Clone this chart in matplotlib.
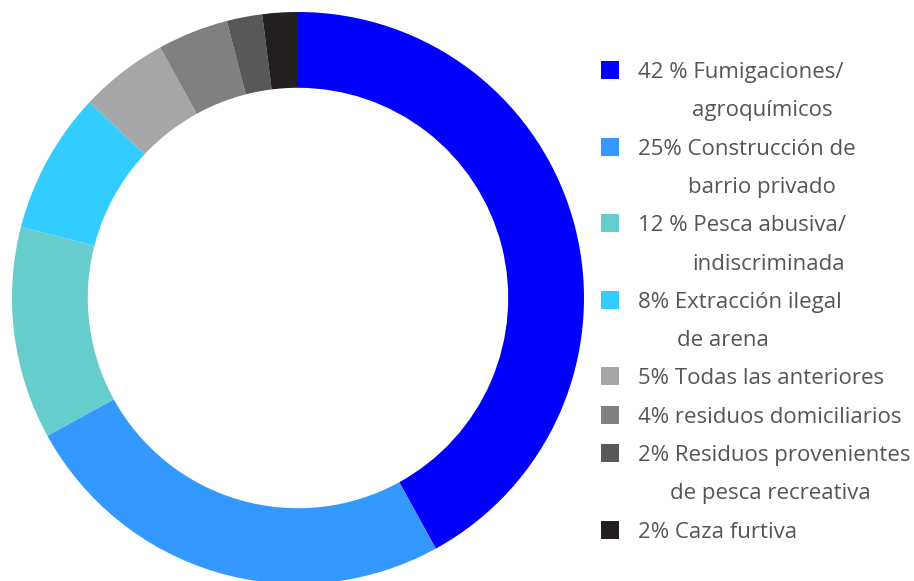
import matplotlib
matplotlib.use("Agg")
import matplotlib.pyplot as plt

values = [42, 25, 12, 8, 5, 4, 2, 2]
colors = ["#0000FF", "#3399FF", "#66CCCC", "#33CCFF", "#A6A6A8", "#808083", "#58585A", "#231F20"]
label_lines = [
    ["42 % Fumigaciones/", "agroquímicos"],
    ["25% Construcción de", "barrio privado"],
    ["12 % Pesca abusiva/", "indiscriminada"],
    ["8% Extracción ilegal", "de arena"],
    ["5% Todas las anteriores"],
    ["4% residuos domiciliarios"],
    ["2% Residuos provenientes", "de pesca recreativa"],
    ["2% Caza furtiva"],
]
# x offsets (px) of continuation lines
cont_x = [692, 688, 692, 677, None, None, 670, None]

W, H = 914, 581
fig = plt.figure(figsize=(W / 100, H / 100), dpi=100)
fig.patch.set_facecolor("white")

cx, cy, r = 298, 298, 286
ax = fig.add_axes([(cx - r) / W, (H - cy - r) / H, 2 * r / W, 2 * r / H])
ax.pie(values, colors=colors, startangle=90, counterclock=False, radius=1,
       wedgeprops=dict(width=0.265, edgecolor="none"))
ax.set_xlim(-1, 1)
ax.set_ylim(-1, 1)
ax.set_aspect("equal")
ax.axis("off")

font = "Open Sans"
fs = 14
text_color = "#555555"

# fit font size so the longest line spans ~274 px like the reference
renderer = fig.canvas.get_renderer()
probe = fig.text(0, 0, "2% Residuos provenientes", fontsize=fs, family=font)
wpx = probe.get_window_extent(renderer).width
probe.remove()
fs = fs * 274 / wpx

y = 70
step = 38.3
for i, lines in enumerate(label_lines):
    sq = 18
    fig.patches.append(plt.Rectangle((601 / W, (H - y - sq / 2) / H), sq / W, sq / H,
                                     transform=fig.transFigure, facecolor=colors[i],
                                     edgecolor="none"))
    fig.text(638 / W, (H - y) / H, lines[0], fontsize=fs, family=font,
             color=text_color, va="center_baseline", ha="left")
    y += step
    if len(lines) > 1:
        fig.text(cont_x[i] / W, (H - y) / H, lines[1], fontsize=fs, family=font,
                 color=text_color, va="center_baseline", ha="left")
        y += step

fig.savefig("out.png", dpi=100, facecolor="white")
